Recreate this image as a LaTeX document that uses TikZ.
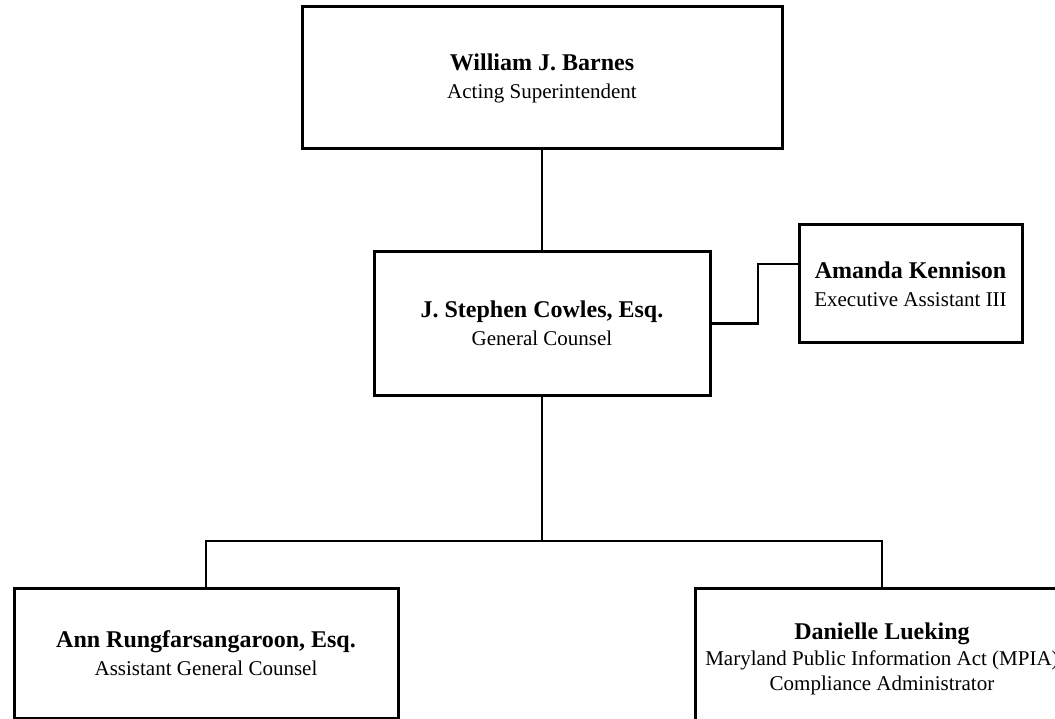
\documentclass[tikz,border=0pt]{standalone}
\usepackage{fontspec}
\setmainfont{Liberation Serif}

\tikzset{
  post/.style={draw, line width=3pt, inner sep=0pt, align=center,
    font=\fontsize{21}{25}\selectfont},
  link/.style={line width=2.5pt},
}
\newcommand{\who}[1]{{\fontsize{24}{26}\selectfont\bfseries #1}}

\begin{document}
\begin{tikzpicture}[x=1pt,y=-1pt]
\useasboundingbox (0,0) rectangle (1055,719);
\clip (0,0) rectangle (1055,719);

\node[post, minimum width=480pt, minimum height=142pt] (chief) at (542,78)
  {\who{William J. Barnes}\\[3pt]Acting Superintendent};
\node[post, minimum width=336pt, minimum height=143pt] (counsel) at (542,323.5)
  {\who{J. Stephen Cowles, Esq.}\\[3pt]General Counsel};
\node[post, minimum width=223pt, minimum height=118pt] (assist) at (910.5,284)
  {\who{Amanda Kennison}\\[3pt]Executive Assistant III};
\node[post, minimum width=384pt, minimum height=130pt] (ann) at (206,653)
  {\who{Ann Rungfarsangaroon, Esq.}\\[3pt]Assistant General Counsel};
\node[post, minimum width=374pt, minimum height=142pt] (dan) at (882,659)
  {\who{Danielle Lueking}\\[0.5pt]Maryland Public Information Act (MPIA)\\Compliance Administrator};

\coordinate (jog) at (758,323.5);
\coordinate (bar) at (542,541);

\draw[link] (chief.south) -- (counsel.north);
\draw[link] (counsel.east) -- (jog) |- ([yshift=20pt]assist.west);
\draw[link] (counsel.south) -- (bar);
\draw[link] (ann.north) |- (bar) -| (dan.north);
\end{tikzpicture}
\end{document}
